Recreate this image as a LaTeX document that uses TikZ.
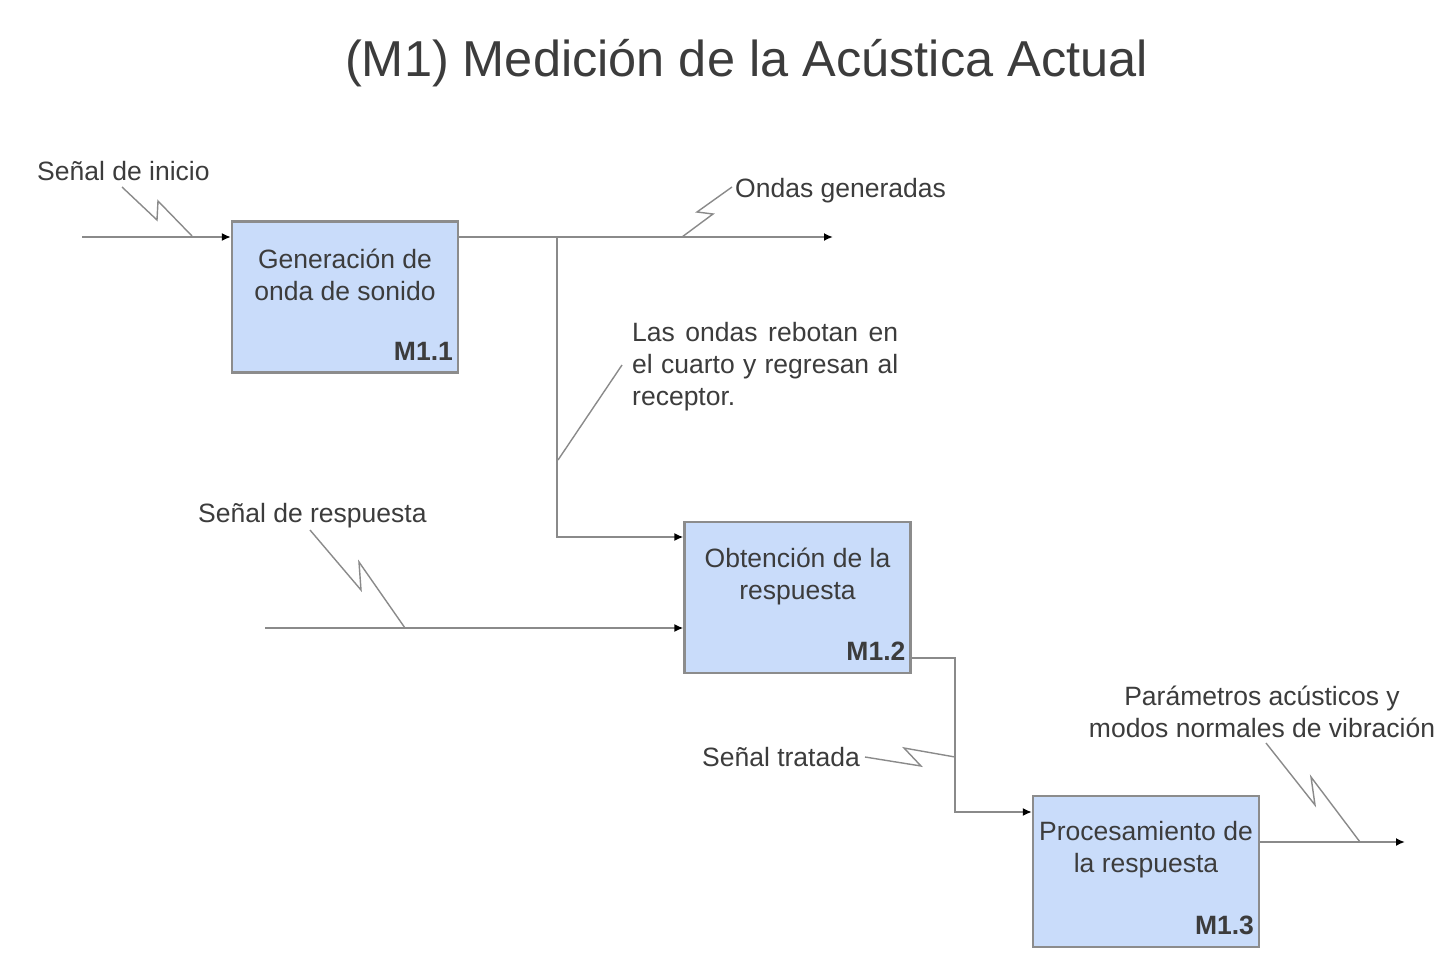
\documentclass[tikz,border=0pt]{standalone}
\usepackage{fontspec}
\setmainfont{Liberation Sans}
\usetikzlibrary{arrows.meta,calc}
\definecolor{boxfill}{HTML}{C9DCFA}
\definecolor{boxline}{HTML}{8C8C8C}
\definecolor{wire}{HTML}{8A8A8A}
\definecolor{txt}{HTML}{3C3C3C}
\tikzset{
 procbox/.style={draw=boxline, line width=2.2pt, fill=boxfill, minimum width=226pt, minimum height=151pt, inner sep=0pt},
 boxtext/.style={font=\fontsize{26.5}{32}\selectfont, text=txt, align=center, inner sep=0pt},
 idtext/.style={font=\fontsize{26.5}{32}\selectfont\bfseries, text=txt, inner sep=0pt, anchor=base east},
 lbl/.style={font=\fontsize{26.5}{32}\selectfont, text=txt, inner sep=0pt},
 flow/.style={draw=wire, line width=2.6pt, -{Latex[length=9pt,width=8pt,black]}},
 squig/.style={draw=wire, line width=1.4pt},
}
\begin{document}
\begin{tikzpicture}[x=1pt,y=-1pt]
\fill[white] (0,0) rectangle (1450,972);
\useasboundingbox (0,0) rectangle (1450,972);

% title
\node[font=\fontsize{50.5}{60}\selectfont, text=txt, inner sep=0pt, anchor=base] (title) at (746.5,76) {(M1) Medición de la Acústica Actual};

% boxes
\node[procbox] (b1) at (345,297) {};
\node[procbox] (b2) at (797.5,597.5) {};
\node[procbox] (b3) at (1146,871.5) {};

\node[boxtext] (t1) at ($(b1.north)+(0,54)$) {Generación de\\onda de sonido};
\node[boxtext] (t2) at ($(b2.north)+(0,56)$) {Obtención de la\\respuesta};
\node[boxtext] (t3) at ($(b3.north)+(0,55)$) {Procesamiento de\\la respuesta};

\node[idtext] (id1) at ($(b1.south east)+(-6,-13.5)$) {M1.1};
\node[idtext] (id2) at ($(b2.south east)+(-6,-13.5)$) {M1.2};
\node[idtext] (id3) at ($(b3.south east)+(-6,-13.5)$) {M1.3};

% labels
\node[lbl, anchor=base west] (linicio) at (37,180.5) {Señal de inicio};
\node[lbl, anchor=base west] (londas) at (735,197.5) {Ondas generadas};
\node[lbl, anchor=base west, align=left] (lrebota) at (632,405.5) {\makebox[266pt][s]{Las ondas rebotan en}\\\makebox[266pt][s]{el cuarto y regresan al}\\receptor.};
\node[lbl, anchor=base west] (lresp) at (198,522.5) {Señal de respuesta};
\node[lbl, anchor=base east] (ltrat) at (860,766.5) {Señal tratada};
\node[lbl, anchor=base, align=center] (lparam) at (1262,737.5) {Parámetros acústicos y\\modos normales de vibración};

% coordinates
\coordinate (in1) at (82,237);
\coordinate (out1) at (833,237);
\coordinate (br) at (557,237);
\coordinate (j2) at (557,537);
\coordinate (in2) at (265,628);
\coordinate (c1) at (955,658);
\coordinate (c2) at (955,812);
\coordinate (out3) at (1405,842);

% flows
\draw[flow] (in1) -- (b1.west |- in1);
\draw[flow] (b1.east |- in1) -- (out1);
\draw[flow] (br) -- (j2) -- (b2.west |- j2);
\draw[flow] (in2) -- (b2.west |- in2);
\draw[flow] (b2.east |- c1) -- (c1) -- (c2) -- (b3.west |- c2);
\draw[flow] (b3.east |- out3) -- (out3);

% squiggles
\draw[squig] (122,187) -- (157,220) -- (158,201) -- (192,236);
\draw[squig] (732,187) -- (697,212) -- (713,214) -- (682,237);
\draw[squig] (622,365) -- (558,460);
\draw[squig] (310,530) -- (361,590) -- (359,562) -- (405,628);
\draw[squig] (865,757) -- (921,766) -- (904,748) -- (955,757);
\draw[squig] (1266,743) -- (1315,805) -- (1311,777) -- (1360,842);
\end{tikzpicture}
\end{document}
